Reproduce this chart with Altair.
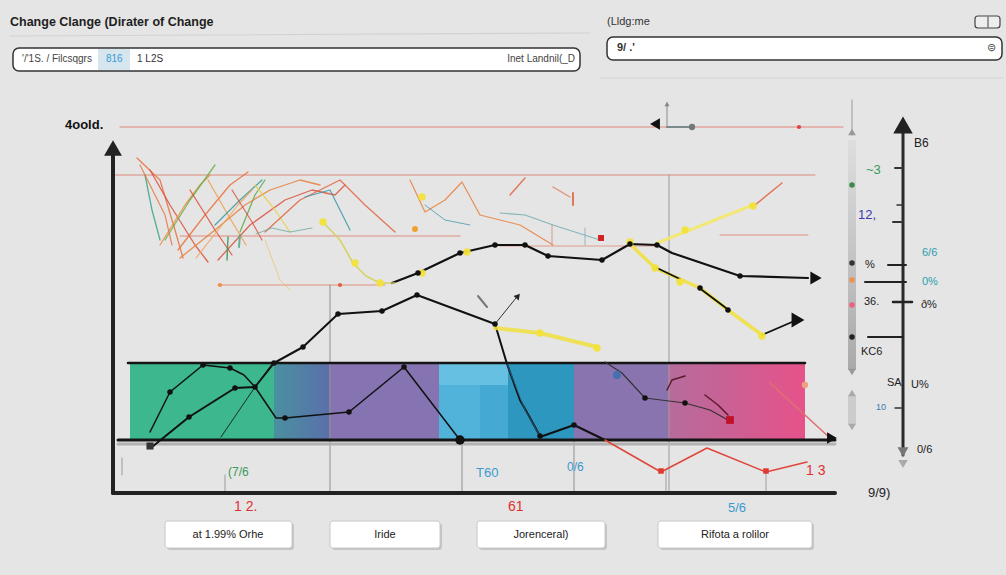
import altair as alt
import pandas as pd

W, H = 1006, 575
BG = "#e5e5e5"
FONT = "Liberation Sans"

# ---------- straight strokes: x, y, x2, y2, colour, width ----------
RULES = [
    (10, 36, 590, 33, "#d2d2d2", 1.2),
    (600, 78, 1003, 78, "#d2d2d2", 1.2),
    (120, 127, 843, 127, "#e08878", 1),
    (667, 127, 692, 127, "#7a8a8a", 2),
    (667, 127, 667, 103, "#8a8a8a", 1),
    (852, 100, 852, 135, "#9a9a9a", 1),
    (113, 175, 815, 175, "#d98a7a", 1),
    (180, 236, 460, 236, "#dd8d80", 1),
    (720, 235, 808, 235, "#e09080", 1),
    (500, 246, 660, 246, "#e09a8a", 1),
    (218, 285, 385, 285, "#e0907a", 1),
    (330, 285, 330, 493, "#8f8f8f", 1),
    (669, 175, 669, 493, "#9a9a9a", 1),
    (462, 440, 462, 493, "#8f8f8f", 1),
    (574, 440, 574, 493, "#8f8f8f", 1),
    (225, 475, 225, 493, "#9a9a9a", 1),
    (666, 470, 666, 493, "#a0a0a0", 1),
    (766, 470, 766, 493, "#a0a0a0", 1),
    (122, 458, 122, 475, "#9a9a9a", 1),
    (118, 444, 835, 444, "#b2b2b2", 3),
    (128, 363, 805, 363, "#151515", 2.5),
    (118, 440, 835, 440, "#151515", 3),
    (113, 150, 113, 493, "#222222", 4),
    (113, 493, 835, 493, "#222222", 4),
    (903, 125, 903, 455, "#2a2a2a", 3),
    (895, 168, 903, 168, "#333333", 2),
    (897, 205, 903, 205, "#333333", 1.5),
    (893, 222, 903, 222, "#333333", 2),
    (888, 265, 906, 265, "#222222", 2),
    (865, 282, 906, 282, "#222222", 2),
    (893, 302, 912, 302, "#222222", 2.5),
    (868, 337, 903, 337, "#222222", 2),
    (895, 408, 903, 408, "#333333", 1.5),
    (478, 296, 487, 307, "#777777", 2),
    (988, 17, 988, 27, "#444444", 1),
]

# ---------- flat fills: x, y, x2, y2, fill ----------
BANDS = [
    (130, 363, 274, 440, "#3db88e"),
    (329, 363, 439, 440, "#8673b2"),
    (439, 363, 480, 440, "#52b3da"),
    (480, 363, 508, 440, "#45aad3"),
    (439, 363, 508, 385, "#66c0e2"),
    (508, 363, 574, 440, "#2d97c0"),
    (574, 363, 668, 440, "#8a74b0"),
    (848, 395, 856, 425, "#cccccc"),
]

# ---------- gradient fills: x, y, x2, y2, start colour, end colour, direction ----------
GRADIENTS = [
    (274, 363, 329, 440, "#4a90a0", "#5a70aa", "h"),
    (668, 363, 805, 440, "#b56c9c", "#e6528a", "h"),
    (848, 140, 856, 370, "#dedede", "#aaaaaa", "v"),
]

# ---------- boxes: x, y, x2, y2, fill ----------
BOXES = [
    (13, 48, 580, 71, "#ffffff"),
    (607, 37, 1002, 60, "#ffffff"),
]
TOGGLE = [(975, 16, 1000, 28, "#eeeeee")]
HILITE = [(98, 49, 130, 70, "#d5e6ef")]
BUTTONS = [
    (165, 521, 292, 548),
    (330, 521, 440, 548),
    (477, 521, 605, 548),
    (658, 521, 812, 548),
]

# ---------- polylines: id, colour, width, opacity, points ----------
LINES = [
    ("blackTop", "#111111", 2.2, 1.0,
     [(392, 283), (418, 273), (460, 253), (495, 245), (525, 245), (548, 256),
      (602, 260), (630, 244), (657, 245), (672, 253), (740, 276), (808, 278)]),
    ("yellowPre", "#d6cf5a", 1.6, 0.9,
     [(323, 222), (340, 240), (353, 263), (366, 276), (380, 283), (395, 283)]),
    ("blackB", "#111111", 2.0, 1.0,
     [(152, 447), (189, 417), (235, 388), (255, 387), (274, 363), (303, 347),
      (338, 314), (382, 311), (417, 295), (495, 324), (507, 364), (520, 400), (540, 436)]),
    ("blackA", "#111111", 1.5, 1.0,
     [(150, 432), (170, 392), (203, 365), (230, 368), (244, 375), (255, 387), (276, 418),
      (285, 418), (349, 412), (404, 367), (460, 440)]),
    ("blackThin", "#1a1a1a", 1.0, 0.9, [(221, 437), (255, 387), (272, 364)]),
    ("blackCap", "#111111", 2.0, 1.0, [(540, 437), (574, 425), (605, 440)]),
    ("thinArrow", "#333333", 1.0, 1.0, [(495, 324), (516, 298)]),
    ("yellow2", "#f0e040", 4.0, 0.85, [(495, 328), (540, 333), (597, 347)]),
    ("yellow3", "#f0e040", 3.5, 0.9,
     [(630, 244), (655, 268), (700, 288), (728, 310), (762, 335)]),
    ("black3a", "#111111", 1.8, 1.0, [(657, 268), (680, 279)]),
    ("black3b", "#111111", 1.8, 1.0, [(702, 290), (726, 308)]),
    ("black3c", "#111111", 1.8, 1.0, [(762, 335), (792, 322)]),
    ("yellow4", "#f3e86a", 3.0, 0.9, [(657, 243), (690, 230), (720, 218), (753, 205)]),
    ("orangeDash", "#e06a4a", 1.5, 0.9, [(755, 205), (782, 183)]),
    ("purpleLine", "#333333", 1.2, 1.0,
     [(605, 362), (622, 373), (645, 398), (685, 403), (710, 410), (728, 420)]),
    ("squiggle", "#5a1a2a", 1.5, 1.0, [(667, 390), (672, 380), (685, 376)]),
    ("squiggle2", "#5a1a2a", 1.5, 1.0, [(705, 395), (718, 405), (728, 415)]),
    ("pinkDiag", "#e07070", 1.6, 1.0, [(770, 383), (830, 438)]),
    ("redBottom", "#e0453a", 1.5, 1.0,
     [(605, 440), (661, 472), (707, 448), (766, 472), (807, 462)]),
    ("teal5", "#2a6f8f", 1.0, 0.8, [(507, 364), (525, 410), (540, 436)]),
    # crisscross strands upper left
    ("s1", "#e8703a", 1.3, 0.85, [(137, 158), (160, 180), (175, 230), (183, 258)]),
    ("s2", "#3aa58a", 1.3, 0.85, [(145, 175), (152, 210), (160, 240)]),
    ("s3", "#d9503a", 1.3, 0.85, [(150, 170), (170, 205), (195, 245), (208, 262)]),
    ("s4", "#f08a40", 1.3, 0.85, [(160, 245), (185, 205), (200, 185), (210, 175)]),
    ("s5", "#6ab04a", 1.3, 0.85, [(165, 240), (190, 200), (215, 165)]),
    ("s6", "#e8703a", 1.3, 0.85, [(178, 250), (205, 215), (230, 185), (248, 172)]),
    ("s7", "#d9503a", 1.3, 0.85, [(190, 190), (215, 230), (232, 255)]),
    ("s8", "#f0a050", 1.3, 0.85, [(208, 180), (228, 215), (246, 245)]),
    ("s9", "#3a9a9a", 1.3, 0.85, [(215, 225), (240, 200), (262, 180)]),
    ("s10", "#5aaa4a", 1.3, 0.85, [(240, 232), (255, 195), (265, 180)]),
    ("s11", "#e8803a", 1.3, 0.85,
     [(180, 258), (215, 230), (245, 205), (270, 190), (300, 180), (320, 185)]),
    ("s12", "#d9503a", 1.3, 0.85,
     [(218, 260), (250, 225), (285, 200), (312, 190), (335, 195), (345, 185)]),
    ("s13", "#e8d050", 1.3, 0.85, [(255, 185), (275, 210), (290, 232)]),
    ("s14", "#e06a4a", 1.3, 0.9,
     [(265, 232), (300, 200), (340, 180), (365, 205), (395, 232)]),
    ("s15", "#3a9aaa", 1.2, 0.85, [(305, 197), (330, 190), (350, 230)]),
    ("s16", "#e8803a", 1.2, 0.85,
     [(410, 180), (425, 212), (445, 200), (462, 182), (480, 215), (520, 225), (553, 245)]),
    ("s17", "#4a9aaa", 1.0, 0.8, [(425, 205), (445, 220), (470, 225)]),
    ("s18", "#e06a4a", 1.4, 0.9, [(510, 195), (525, 178)]),
    ("s19", "#e08a6a", 1.4, 0.9, [(553, 187), (570, 197)]),
    ("s20", "#e06a4a", 2.0, 0.9, [(573, 193), (573, 205)]),
    ("s21", "#6aaaaa", 1.1, 0.8, [(500, 213), (525, 215), (553, 225), (600, 240)]),
    ("s22", "#d08a7a", 1.0, 0.8, [(552, 225), (552, 245)]),
    ("s23", "#8aaaba", 1.0, 0.8, [(585, 228), (585, 245)]),
    ("s24", "#3a9a5a", 1.5, 0.85, [(228, 237), (227, 260)]),
    ("s25", "#4aaa8a", 2.0, 0.85, [(240, 235), (239, 247)]),
    ("s26", "#f0c060", 1.0, 0.7, [(265, 240), (280, 280), (290, 290)]),
    ("s27", "#e8703a", 1.2, 0.8, [(140, 165), (165, 215), (172, 245)]),
    ("s28", "#f0a050", 1.2, 0.8, [(196, 258), (222, 225), (238, 205), (252, 190)]),
    ("s29", "#d9503a", 1.2, 0.8, [(232, 190), (252, 222), (262, 240)]),
    ("s30", "#6aaa9a", 1.0, 0.8, [(256, 234), (272, 228), (290, 232), (312, 228)]),
]

# ---------- markers: x, y, shape, size, colour, angle ----------
MARKERS = [
    (113, 148, "triangle-up", 320, "#222222", 0),
    (903, 125, "triangle-up", 380, "#222222", 0),
    (903, 452, "triangle-down", 120, "#777777", 0),
    (903, 464, "triangle-down", 90, "#aaaaaa", 0),
    (816, 278, "triangle-right", 170, "#111111", 0),
    (798, 320, "triangle-right", 220, "#111111", 0),
    (832, 438, "triangle-right", 130, "#111111", 0),
    (655, 124, "triangle-left", 130, "#111111", 0),
    (667, 104, "triangle-up", 25, "#888888", 0),
    (852, 132, "triangle-up", 60, "#999999", 0),
    (852, 372, "triangle-down", 60, "#999999", 0),
    (852, 393, "triangle-up", 60, "#aaaaaa", 0),
    (852, 427, "triangle-down", 60, "#aaaaaa", 0),
    (518, 296, "triangle-up", 45, "#222222", 40),
    (460, 440, "circle", 90, "#111111", 0),
    (150, 446, "square", 50, "#333333", 0),
    (692, 127, "circle", 40, "#6f7a7a", 0),
    (799, 127, "circle", 18, "#e04040", 0),
    (220, 285, "circle", 18, "#f09040", 0),
    (340, 285, "circle", 18, "#e06040", 0),
    (661, 471, "square", 30, "#e03a30", 0),
    (766, 471, "square", 30, "#e03a30", 0),
    (601, 238, "square", 35, "#d02020", 0),
    (730, 420, "square", 60, "#c0102a", 0),
    (852, 185, "circle", 30, "#3a8a4a", 0),
    (852, 263, "circle", 30, "#333333", 0),
    (852, 280, "circle", 30, "#f0904a", 0),
    (852, 305, "circle", 30, "#f06080", 0),
    (852, 337, "circle", 30, "#222222", 0),
    (617, 375, "circle", 70, "#4a6fb0", 0),
    (415, 229, "circle", 35, "#f0a030", 0),
    (805, 385, "circle", 40, "#f0a080", 0),
]
BLACK_DOTS = [
    (418, 273), (460, 253), (495, 245), (525, 245), (548, 256), (602, 260),
    (630, 244), (657, 245), (740, 276), (189, 417), (235, 388), (274, 363),
    (303, 347), (338, 314), (382, 311), (417, 295), (495, 324), (540, 436),
    (170, 392), (203, 365), (230, 368), (255, 387), (285, 418), (349, 412),
    (404, 367), (700, 288), (728, 310), (645, 398), (685, 403), (574, 425),
]
YELLOW_DOTS = [
    (323, 222), (355, 263), (380, 283), (422, 273), (467, 252), (540, 333),
    (597, 348), (630, 242), (655, 268), (680, 282), (762, 336), (753, 206),
    (685, 230), (422, 197),
]

# ---------- texts: x, y, text, colour, size ----------
TEXT_BOLD = [
    (10, 22, "Change Clange (Dirater of Change", "#1e1e1e", 12.5),
    (65, 125, "4oold.", "#111111", 13),
    (617, 48, "9/ .'", "#333333", 11),
]
TEXT_LEFT = [
    (22, 59, "'/'1S. / Filcsqgrs", "#444444", 10),
    (106, 59, "816", "#3a9ad0", 10),
    (137, 59, "1 L2S", "#333333", 10),
    (607, 22, "(Lldg:me", "#333333", 11),
    (228, 472, "(7/6", "#3a9a5a", 12),
    (476, 473, "T60", "#3a9ad0", 13),
    (567, 467, "0/6", "#3a9ad0", 12),
    (806, 471, "1 3", "#e03030", 14),
    (234, 507, "1 2.", "#e03030", 14),
    (508, 507, "61", "#e03030", 14),
    (728, 508, "5/6", "#3a9ad0", 13),
    (868, 493, "9/9)", "#222222", 13),
    (914, 143, "B6", "#222222", 12),
    (866, 170, "~3", "#3a9a5a", 13),
    (858, 215, "12,", "#3a3aa8", 13),
    (922, 253, "6/6", "#2aa0b0", 11),
    (922, 282, "0%", "#2aa0b0", 11),
    (865, 265, "%", "#222222", 11),
    (864, 302, "36.", "#222222", 11),
    (921, 305, "ð%", "#222222", 11),
    (861, 352, "KC6", "#222222", 11),
    (887, 383, "SA", "#222222", 11),
    (911, 385, "U%", "#222222", 11),
    (876, 407, "10", "#3a7ab0", 9),
    (917, 450, "0/6", "#222222", 11),
]
TEXT_CENTER = [
    (228, 535, "at 1.99% Orhe", "#222222", 11),
    (385, 535, "Iride", "#222222", 11),
    (541, 535, "Jorenceral)", "#222222", 11),
    (735, 535, "Rifota a rolilor", "#222222", 11),
    (991, 48, "⊜", "#444444", 11),
]
TEXT_RIGHT = [
    (575, 59, "Inet Landnil(_D", "#444444", 10),
]


def X(f):
    return alt.X(f, type="quantitative", axis=None,
                 scale=alt.Scale(domain=[0, W], nice=False, zero=False))


def Y(f):
    return alt.Y(f, type="quantitative", axis=None,
                 scale=alt.Scale(domain=[0, H], nice=False, zero=False, reverse=True))


def rect_layer(df, **kw):
    enc = dict(x=X("x"), x2="x2", y=Y("y"), y2="y2")
    if "c" in df.columns:
        enc["color"] = alt.Color("c:N", scale=None)
    return alt.Chart(df).mark_rect(**kw).encode(**enc)


def gradient_layer(item):
    x, y, x2, y2, c0, c1, d = item
    df = pd.DataFrame([{"x": x, "y": y, "x2": x2, "y2": y2}])
    grad = {"gradient": "linear",
            "x1": 0, "y1": 0,
            "x2": 1 if d == "h" else 0, "y2": 0 if d == "h" else 1,
            "stops": [{"offset": 0, "color": c0}, {"offset": 1, "color": c1}]}
    return alt.Chart(df).mark_rect(color=grad).encode(
        x=X("x"), x2="x2", y=Y("y"), y2="y2")


def text_layer(items, **kw):
    df = pd.DataFrame(items, columns=["x", "y", "t", "c", "s"])
    return alt.Chart(df).mark_text(baseline="middle", font=FONT, **kw).encode(
        x=X("x"), y=Y("y"), text="t:N",
        color=alt.Color("c:N", scale=None), size=alt.Size("s:Q", scale=None))


rules_df = pd.DataFrame(RULES, columns=["x", "y", "x2", "y2", "c", "w"])
bands_df = pd.DataFrame(BANDS, columns=["x", "y", "x2", "y2", "c"])
boxes_df = pd.DataFrame(BOXES, columns=["x", "y", "x2", "y2", "c"])
toggle_df = pd.DataFrame(TOGGLE, columns=["x", "y", "x2", "y2", "c"])
hilite_df = pd.DataFrame(HILITE, columns=["x", "y", "x2", "y2", "c"])
buttons_df = pd.DataFrame(BUTTONS, columns=["x", "y", "x2", "y2"])
shadow_df = buttons_df.assign(x=buttons_df.x + 2, x2=buttons_df.x2 + 2,
                              y=buttons_df.y + 2, y2=buttons_df.y2 + 2)

rows = []
for sid, c, w, o, pts in LINES:
    for i, (px, py) in enumerate(pts):
        rows.append({"sid": sid, "c": c, "w": w, "o": o, "i": i, "x": px, "y": py})
lines_df = pd.DataFrame(rows)

markers_df = pd.DataFrame(MARKERS, columns=["x", "y", "shape", "s", "c", "a"])
bdots_df = pd.DataFrame(BLACK_DOTS, columns=["x", "y"])
ydots_df = pd.DataFrame(YELLOW_DOTS, columns=["x", "y"])

layers = [rect_layer(bands_df)]
layers += [gradient_layer(g) for g in GRADIENTS]
layers += [
    rect_layer(boxes_df, cornerRadius=6, stroke="#333333", strokeWidth=1.5),
    rect_layer(toggle_df, cornerRadius=3, stroke="#444444", strokeWidth=1.2),
    rect_layer(hilite_df),
    rect_layer(shadow_df, color="#c4c4c4", cornerRadius=3),
    rect_layer(buttons_df, color="#ffffff", cornerRadius=3, stroke="#c8c8c8", strokeWidth=1),
    alt.Chart(rules_df).mark_rule(strokeCap="round").encode(
        x=X("x"), y=Y("y"), x2="x2", y2="y2",
        color=alt.Color("c:N", scale=None),
        strokeWidth=alt.StrokeWidth("w:Q", scale=None)),
    alt.Chart(lines_df).mark_line(strokeCap="round", strokeJoin="round").encode(
        x=X("x"), y=Y("y"), detail="sid:N", order="i:Q",
        color=alt.Color("c:N", scale=None),
        strokeWidth=alt.StrokeWidth("w:Q", scale=None),
        opacity=alt.Opacity("o:Q", scale=None)),
    alt.Chart(ydots_df).mark_circle(size=55, color="#f2e23a", opacity=0.95).encode(
        x=X("x"), y=Y("y")),
    alt.Chart(bdots_df).mark_circle(size=30, color="#111111", opacity=1).encode(
        x=X("x"), y=Y("y")),
    alt.Chart(markers_df).mark_point(filled=True, opacity=1).encode(
        x=X("x"), y=Y("y"),
        shape=alt.Shape("shape:N", scale=None),
        size=alt.Size("s:Q", scale=None),
        color=alt.Color("c:N", scale=None),
        angle=alt.Angle("a:Q", scale=None)),
    text_layer(TEXT_BOLD, align="left", fontWeight="bold"),
    text_layer(TEXT_LEFT, align="left"),
    text_layer(TEXT_CENTER, align="center"),
    text_layer(TEXT_RIGHT, align="right"),
]

chart = alt.layer(*layers).properties(
    width=W, height=H, autosize="none", padding=0, background=BG
).configure_view(stroke=None)

chart.save("out.html", embed_options={"renderer": "svg", "actions": False})
